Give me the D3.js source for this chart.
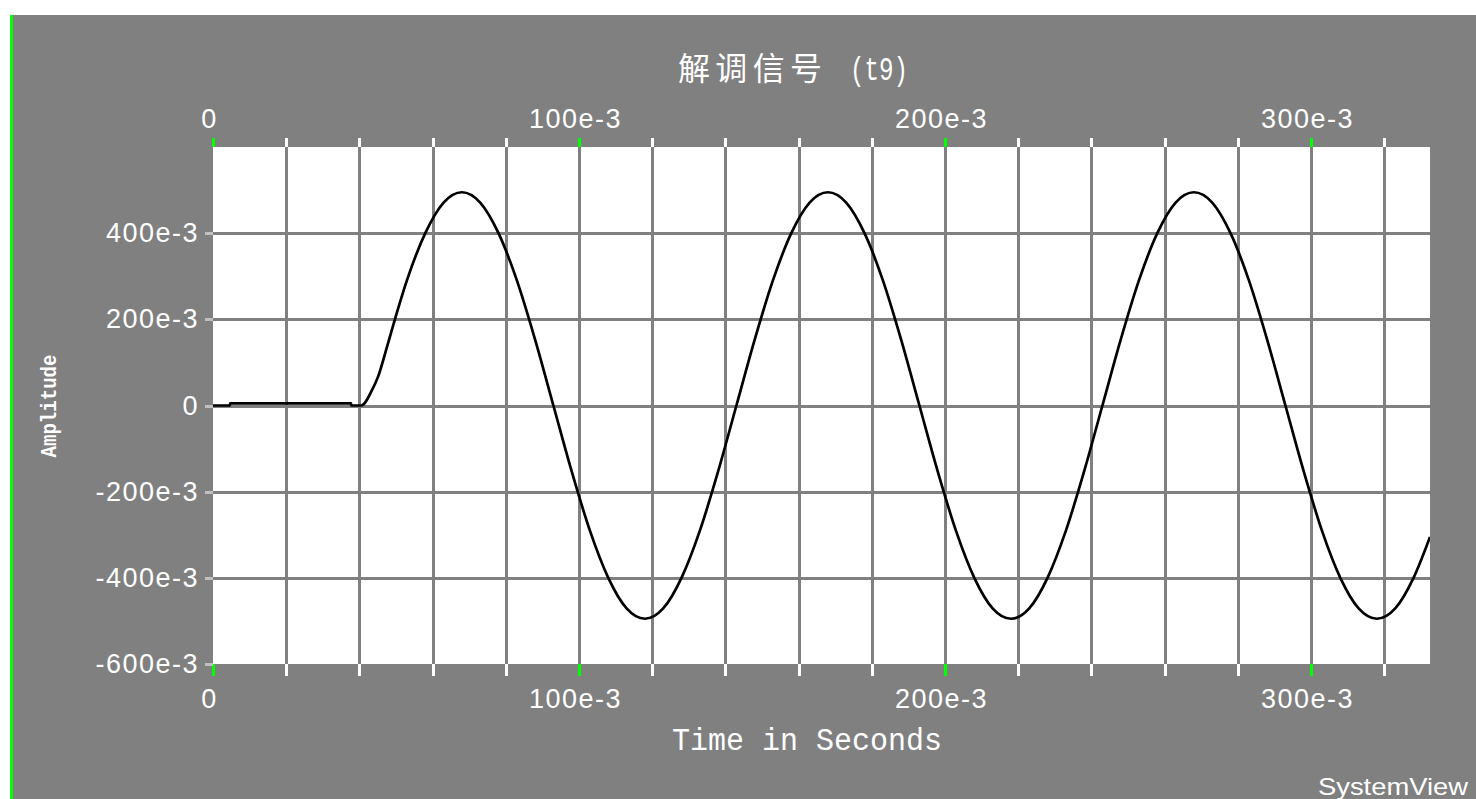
<!DOCTYPE html>
<html>
<head>
<meta charset="utf-8">
<script src="https://cdn.jsdelivr.net/npm/d3@7"></script>
<style>
  html, body { margin: 0; padding: 0; background: #ffffff; }
  svg { display: block; }
</style>
</head>
<body>
<svg id="chart" width="1476" height="799"></svg>
<script>
// ---- data ----
const timeMs = [0, 4.6, 4.7, 37.7, 37.8, 40.5, 43.4, 45.1, 47.5, 49.7,
  53, 58, 63, 68, 73, 78, 83, 88, 93, 98,
  103, 108, 113, 118, 123, 128, 133, 138, 143, 148,
  153, 158, 163, 168, 173, 178, 183, 188, 193, 198,
  203, 208, 213, 218, 223, 228, 233, 238, 243, 248,
  253, 258, 263, 268, 273, 278, 283, 288, 293, 298,
  303, 308, 313, 318, 323, 328, 332.5];
const amplitude = [0, 0, 0.005, 0.005, 0, 0, 0.035, 0.067, 0.135, 0.2,
  0.291, 0.400, 0.471, 0.495, 0.471, 0.400, 0.291, 0.153, 0, -0.153,
  -0.291, -0.400, -0.471, -0.495, -0.471, -0.400, -0.291, -0.153, 0, 0.153,
  0.291, 0.400, 0.471, 0.495, 0.471, 0.400, 0.291, 0.153, 0, -0.153,
  -0.291, -0.400, -0.471, -0.495, -0.471, -0.400, -0.291, -0.153, 0, 0.153,
  0.291, 0.400, 0.471, 0.495, 0.471, 0.400, 0.291, 0.153, 0, -0.153,
  -0.291, -0.400, -0.471, -0.495, -0.471, -0.400, -0.305];
const xTicks = [0, 0.02, 0.04, 0.06, 0.08, 0.1, 0.12, 0.14, 0.16, 0.18, 0.2, 0.22, 0.24, 0.26, 0.28, 0.3, 0.32];
const xMajor = [0, 0.1, 0.2, 0.3];
const xMajorLabels = ["0", "100e-3", "200e-3", "300e-3"];
const yTicks = [-0.6, -0.4, -0.2, 0, 0.2, 0.4];
const yTickLabels = ["-600e-3", "-400e-3", "-200e-3", "0", "200e-3", "400e-3"];
const yGrid = [-0.4, -0.2, 0, 0.2, 0.4];
const titleMain = "解调信号";
const titleSub = "(t9)";
const xTitle = "Time in Seconds";
const yTitle = "Amplitude";
const brand = "SystemView";

// ---- layout ----
const GRAY = "#808080", GREEN = "#00ff00", LIGHT = "#c0c0c0";
const svg = d3.select("#chart");
const P = { left: 213, right: 1430, top: 147, bottom: 664 };

const x = d3.scaleLinear().domain([0, 0.3325]).range([P.left, P.right]);
const y = d3.scaleLinear().domain([-0.6, 0.6]).range([P.bottom, P.top]);

// panel background
svg.append("rect").attr("x", 13).attr("y", 15).attr("width", 1463).attr("height", 784).attr("fill", GRAY);
svg.append("rect").attr("x", 10).attr("y", 15).attr("width", 3).attr("height", 784).attr("fill", GREEN);

// plot area
svg.append("rect").attr("x", P.left).attr("y", P.top)
  .attr("width", P.right - P.left).attr("height", P.bottom - P.top).attr("fill", "#ffffff");

// grid
const grid = svg.append("g");
grid.selectAll("line.v").data(xTicks.filter(d => d > 0)).join("line")
  .attr("x1", d => Math.round(x(d))).attr("x2", d => Math.round(x(d)))
  .attr("y1", P.top).attr("y2", P.bottom)
  .attr("stroke", GRAY).attr("stroke-width", 3).attr("shape-rendering", "crispEdges");
grid.selectAll("line.h").data(yGrid).join("line")
  .attr("x1", P.left).attr("x2", P.right)
  .attr("y1", d => Math.round(y(d))).attr("y2", d => Math.round(y(d)))
  .attr("stroke", GRAY).attr("stroke-width", 3).attr("shape-rendering", "crispEdges");

const fmtX = d => {
  const i = xMajor.findIndex(m => Math.abs(m - d) < 1e-9);
  return i >= 0 ? xMajorLabels[i] : "";
};
const isMajor = d => xMajor.some(m => Math.abs(m - d) < 1e-9);

function styleXAxis(g) {
  g.select(".domain").remove();
  g.selectAll(".tick line")
    .attr("stroke", d => isMajor(d) ? GREEN : "#ffffff")
    .attr("stroke-width", 3).attr("shape-rendering", "crispEdges");
  g.selectAll(".tick text")
    .attr("fill", "#ffffff")
    .attr("dx", -4)
    .style("font-family", "'Liberation Sans', Arial, sans-serif")
    .style("font-size", "27px")
    .style("letter-spacing", "1.5px");
}

// top axis
svg.append("g").attr("transform", `translate(0,${P.top})`)
  .call(d3.axisTop(x).tickValues(xTicks).tickSize(9).tickPadding(10).tickFormat(fmtX))
  .call(styleXAxis);

// bottom axis
svg.append("g").attr("transform", `translate(0,${P.bottom})`)
  .call(d3.axisBottom(x).tickValues(xTicks).tickSize(12).tickPadding(13).tickFormat(fmtX))
  .call(styleXAxis);

// left axis
const yAx = svg.append("g").attr("transform", `translate(${P.left},0)`)
  .call(d3.axisLeft(y).tickValues(yTicks).tickSize(8).tickPadding(6)
    .tickFormat(d => yTickLabels[yTicks.findIndex(v => Math.abs(v - d) < 1e-9)]));
yAx.select(".domain").remove();
yAx.selectAll(".tick line").attr("stroke", LIGHT).attr("stroke-width", 3).attr("shape-rendering", "crispEdges");
yAx.selectAll(".tick text")
  .attr("fill", "#ffffff")
  .style("font-family", "'Liberation Sans', Arial, sans-serif")
  .style("font-size", "27px")
  .style("letter-spacing", "1.5px");

// signal line
svg.append("clipPath").attr("id", "clip").append("rect")
  .attr("x", P.left).attr("y", P.top).attr("width", P.right - P.left).attr("height", P.bottom - P.top);
const pts = timeMs.map((t, i) => [t / 1000, amplitude[i]]);
svg.append("path")
  .attr("clip-path", "url(#clip)")
  .attr("d", d3.line().x(d => x(d[0])).y(d => y(d[1])).curve(d3.curveMonotoneX)(pts))
  .attr("fill", "none").attr("stroke", "#000000").attr("stroke-width", 2.7)
  .attr("stroke-linejoin", "round");

// title
const title = svg.append("text").attr("y", 80).attr("fill", "#ffffff")
  .style("font-family", "'Noto Sans CJK SC', sans-serif").style("font-size", "32px");
title.append("tspan").attr("x", 678).attr("textLength", 144).attr("lengthAdjust", "spacing").text(titleMain);
title.append("tspan").attr("x", 850).attr("textLength", 58).attr("lengthAdjust", "spacingAndGlyphs")
  .style("font-family", "'Liberation Mono', monospace").style("font-size", "34px").text(titleSub);

// x axis title
svg.append("text").attr("x", 672).attr("y", 750).attr("fill", "#ffffff")
  .attr("textLength", 270).attr("lengthAdjust", "spacingAndGlyphs")
  .style("font-family", "'Liberation Mono', monospace").style("font-size", "31px")
  .text(xTitle);

// y axis title
svg.append("text").attr("transform", "translate(56,406) rotate(-90)")
  .attr("text-anchor", "middle").attr("fill", "#ffffff")
  .attr("textLength", 103).attr("lengthAdjust", "spacingAndGlyphs")
  .style("font-family", "'Liberation Mono', monospace").style("font-size", "22px").style("font-weight", "bold")
  .text(yTitle);

// brand
svg.append("text").attr("x", 1468).attr("y", 795).attr("text-anchor", "end").attr("fill", "#ffffff")
  .attr("textLength", 150).attr("lengthAdjust", "spacingAndGlyphs")
  .style("font-family", "'Liberation Sans', Arial, sans-serif").style("font-size", "24px")
  .text(brand);
</script>
</body>
</html>
